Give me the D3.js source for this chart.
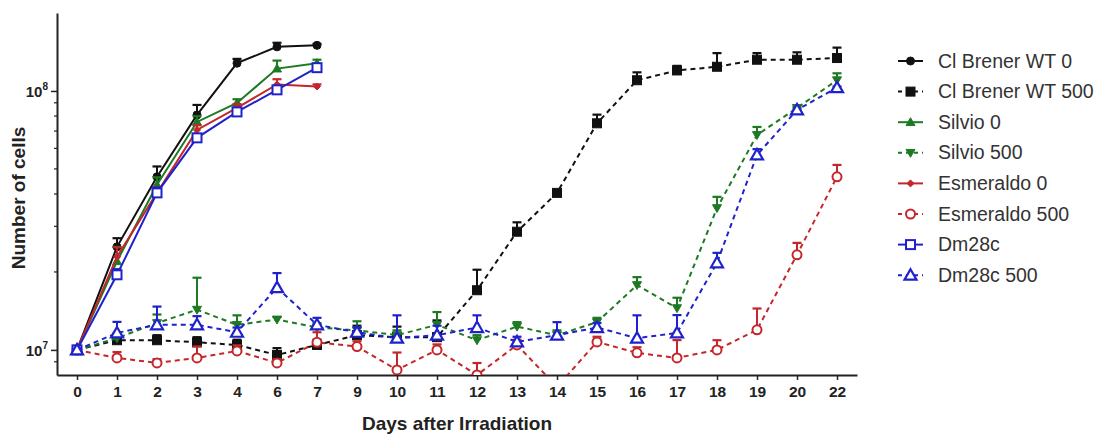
<!DOCTYPE html>
<html>
<head>
<meta charset="utf-8">
<script src="https://cdn.jsdelivr.net/npm/d3@7"></script>
<style>
  body { margin: 0; background: #fff; }
  svg { display: block; font-family: "Liberation Sans", Arial, sans-serif; }
</style>
</head>
<body>
<svg width="1102" height="437"></svg>
<script>
// categorias do eixo X (dias 5, 8 e 21 não existem)
const days = ['0','1','2','3','4','6','7','9','10','11','12','13','14','15','16','17','18','19','20','22'];

// séries sem irradiação (dias 0 a 7)
const cbWT0      = [1e7, 2.5e7, 4.66e7, 8.08e7, 1.28e8, 1.48e8, 1.5e8];
const cbWT0Err   = [0, 0.2e7, 0.45e7, 0.75e7, 0.5e7, 0.55e7, 0.2e7];
const silvio0    = [1e7, 2.2e7, 4.34e7, 7.59e7, 8.99e7, 1.22e8, 1.28e8];
const silvio0Err = [0, 0.3e7, 0.3e7, 0.4e7, 0.3e7, 0.9e7, 0.4e7];
const esm0       = [1e7, 2.29e7, 4.04e7, 7.07e7, 8.6e7, 1.06e8, 1.04e8];
const esm0Err    = [0, 0.2e7, 0.2e7, 0.3e7, 0.3e7, 0.5e7, 0.2e7];
const dm28c      = [1e7, 1.95e7, 4.04e7, 6.59e7, 8.3e7, 1.01e8, 1.23e8];
const dm28cErr   = [0, 0.1e7, 0.2e7, 0.2e7, 0.2e7, 0.3e7, 0.3e7];

// séries irradiadas (500 Gy)
const cbWT500      = [1e7, 1.09e7, 1.09e7, 1.07e7, 1.045e7, 0.956e7, 1.045e7, 1.14e7, 1.12e7, 1.12e7, 1.7e7, 2.86e7, 4.04e7, 7.5e7, 1.10e8, 1.2e8, 1.24e8, 1.32e8, 1.32e8, 1.34e8];
const cbWT500Err   = [0, 0.05e7, 0.05e7, 0.05e7, 0.05e7, 0.06e7, 0.05e7, 0.1e7, 0.11e7, 0.18e7, 0.34e7, 0.25e7, 0.1e7, 0.6e7, 0.8e7, 0.5e7, 1.6e7, 0.8e7, 0.9e7, 1.3e7];
const silvio500    = [1e7, 1.11e7, 1.27e7, 1.43e7, 1.25e7, 1.31e7, 1.22e7, 1.19e7, 1.14e7, 1.25e7, 1.09e7, 1.23e7, 1.14e7, 1.28e7, 1.78e7, 1.45e7, 3.53e7, 6.76e7, 8.6e7, 1.10e8];
const silvio500Err = [0, 0.05e7, 0.1e7, 0.47e7, 0.11e7, 0.03e7, 0.05e7, 0.1e7, 0.05e7, 0.15e7, 0.05e7, 0.05e7, 0.05e7, 0.05e7, 0.13e7, 0.14e7, 0.37e7, 0.5e7, 0.1e7, 0.7e7];
const esm500       = [1e7, 0.931e7, 0.891e7, 0.931e7, 0.991e7, 0.891e7, 1.07e7, 1.03e7, 0.837e7, 1.0e7, 0.80e7, 1.045e7, 0.72e7, 1.074e7, 0.974e7, 0.931e7, 1.0e7, 1.195e7, 2.33e7, 4.66e7];
const esm500Err    = [0, 0.05e7, 0.03e7, 0.1e7, 0.05e7, 0.03e7, 0.1e7, 0.05e7, 0.14e7, 0.05e7, 0.09e7, 0.05e7, 0, 0.05e7, 0.05e7, 0.16e7, 0.09e7, 0.25e7, 0.26e7, 0.52e7];
const dm500        = [1e7, 1.163e7, 1.25e7, 1.25e7, 1.17e7, 1.74e7, 1.25e7, 1.17e7, 1.11e7, 1.14e7, 1.22e7, 1.074e7, 1.14e7, 1.22e7, 1.11e7, 1.163e7, 2.17e7, 5.66e7, 8.45e7, 1.03e8];
const dm500Err     = [0, 0.12e7, 0.22e7, 0.1e7, 0.05e7, 0.24e7, 0.08e7, 0.05e7, 0.25e7, 0.1e7, 0.14e7, 0.05e7, 0.14e7, 0.05e7, 0.25e7, 0.2e7, 0.2e7, 0.3e7, 0.1e7, 0.1e7];

const labels = ['Cl Brener WT 0', 'Cl Brener WT 500', 'Silvio 0', 'Silvio 500', 'Esmeraldo 0', 'Esmeraldo 500', 'Dm28c', 'Dm28c 500'];

const black = '#111', green = '#1d7a22', red = '#c4262b', blue = '#1f22cc';

const series = [
    { name: labels[0], values: cbWT0, err: cbWT0Err, color: black, dash: null, symbol: 'circle', fill: true },
    { name: labels[1], values: cbWT500, err: cbWT500Err, color: black, dash: '5,4', symbol: 'square', fill: true },
    { name: labels[2], values: silvio0, err: silvio0Err, color: green, dash: null, symbol: 'triUp', fill: true },
    { name: labels[3], values: silvio500, err: silvio500Err, color: green, dash: '5,4', symbol: 'triDown', fill: true },
    { name: labels[4], values: esm0, err: esm0Err, color: red, dash: null, symbol: 'diamond', fill: true },
    { name: labels[5], values: esm500, err: esm500Err, color: red, dash: '5,4', symbol: 'circle', fill: false },
    { name: labels[6], values: dm28c, err: dm28cErr, color: blue, dash: null, symbol: 'square', fill: false },
    { name: labels[7], values: dm500, err: dm500Err, color: blue, dash: '5,4', symbol: 'triUp', fill: false }
];

const svg = d3.select('svg');
const margens = { left: 57, right: 245, top: 13, bottom: 62 };
const width = 1102, height = 437;
const plotRight = width - margens.right;
const plotBottom = height - margens.bottom;

//Escalas
const x = d3.scalePoint()
    .domain(days)
    .range([margens.left, plotRight])
    .padding(0.5);

const y = d3.scaleLog()
    .domain([8e6, 2e8])
    .range([plotBottom, margens.top]);

//Eixo X
const xAxis = svg.append('g')
    .attr('transform', `translate(0,${plotBottom})`)
    .call(d3.axisBottom(x).tickSize(5).tickSizeOuter(0).tickPadding(6));
xAxis.select('.domain').attr('stroke', '#222').attr('stroke-width', 2);
xAxis.selectAll('.tick line').attr('stroke', '#222').attr('stroke-width', 1.5);
xAxis.selectAll('.tick text')
    .attr('font-size', 15.5).attr('font-weight', 'bold').attr('fill', '#222')
    .attr('font-family', '"Liberation Sans", Arial, sans-serif');

//Eixo Y: ticks maiores e menores
const major = [1e7, 1e8];
const minor = [9e6, 2e7, 3e7, 4e7, 5e7, 6e7, 7e7, 8e7, 9e7];

const yAxis = svg.append('g')
    .attr('transform', `translate(${margens.left},0)`)
    .call(d3.axisLeft(y).tickValues(major).tickSize(6).tickSizeOuter(0).tickFormat(''));
yAxis.select('.domain').attr('stroke', '#222').attr('stroke-width', 2);
yAxis.selectAll('.tick line').attr('stroke', '#222').attr('stroke-width', 1.5);

svg.append('g')
    .selectAll('line')
    .data(minor)
    .join('line')
    .attr('x1', margens.left - 3).attr('x2', margens.left)
    .attr('y1', d => y(d)).attr('y2', d => y(d))
    .attr('stroke', '#222').attr('stroke-width', 1.2);

//Rótulos 10^7 e 10^8
const yLab = svg.append('g').selectAll('text')
    .data(major)
    .join('text')
    .attr('x', margens.left - 9)
    .attr('y', d => y(d) + 6)
    .attr('text-anchor', 'end')
    .attr('font-size', 15).attr('font-weight', 'bold').attr('fill', '#222');
yLab.append('tspan').text('10');
yLab.append('tspan').attr('dy', -7).attr('font-size', 10).text(d => Math.round(Math.log10(d)));

//Títulos dos eixos
svg.append('text')
    .attr('x', (margens.left + plotRight) / 2)
    .attr('y', 430)
    .attr('text-anchor', 'middle')
    .attr('font-size', 19).attr('font-weight', 'bold').attr('fill', '#222')
    .text('Days after Irradiation');

svg.append('text')
    .attr('transform', 'rotate(-90)')
    .attr('x', -198)
    .attr('y', 25)
    .attr('text-anchor', 'middle')
    .attr('font-size', 19).attr('font-weight', 'bold').attr('fill', '#222')
    .text('Number of cells');

//Área de recorte do gráfico
svg.append('clipPath').attr('id', 'plotClip')
    .append('rect')
    .attr('x', margens.left).attr('y', 0)
    .attr('width', plotRight - margens.left + 20)
    .attr('height', plotBottom);

const plot = svg.append('g').attr('clip-path', 'url(#plotClip)');

function drawSymbol(g, s, cx, cy) {
    const fill = s.fill ? s.color : '#fff';
    if (s.symbol === 'circle') {
        g.append('circle').attr('cx', cx).attr('cy', cy)
            .attr('r', s.fill ? 4 : 4.5)
            .attr('fill', fill).attr('stroke', s.color).attr('stroke-width', s.fill ? 1 : 2);
    } else if (s.symbol === 'square') {
        const h = 4.5;
        g.append('rect').attr('x', cx - h).attr('y', cy - h).attr('width', 2 * h).attr('height', 2 * h)
            .attr('fill', fill).attr('stroke', s.color).attr('stroke-width', s.fill ? 1 : 2);
    } else if (s.symbol === 'triUp') {
        const h = s.fill ? 4.5 : 6;
        g.append('path')
            .attr('d', `M${cx},${cy - h}L${cx + h},${cy + h * 0.75}L${cx - h},${cy + h * 0.75}Z`)
            .attr('fill', fill).attr('stroke', s.color).attr('stroke-width', s.fill ? 1 : 2.2);
    } else if (s.symbol === 'triDown') {
        const h = 4.5;
        g.append('path')
            .attr('d', `M${cx},${cy + h}L${cx + h},${cy - h * 0.75}L${cx - h},${cy - h * 0.75}Z`)
            .attr('fill', fill).attr('stroke', s.color).attr('stroke-width', 1);
    } else if (s.symbol === 'diamond') {
        const h = 3.5;
        g.append('path')
            .attr('d', `M${cx},${cy - h}L${cx + h},${cy}L${cx},${cy + h}L${cx - h},${cy}Z`)
            .attr('fill', fill).attr('stroke', s.color).attr('stroke-width', 1);
    }
}

const line = d3.line()
    .x((d, i) => x(days[i]))
    .y(d => y(d));

series.forEach(s => {
    const g = plot.append('g');

    //Barras de erro (só para cima)
    s.values.forEach((v, i) => {
        if (!s.err[i]) return;
        const cx = x(days[i]);
        const top = y(v + s.err[i]);
        g.append('line').attr('x1', cx).attr('x2', cx).attr('y1', y(v)).attr('y2', top)
            .attr('stroke', s.color).attr('stroke-width', 2);
        g.append('line').attr('x1', cx - 4.5).attr('x2', cx + 4.5).attr('y1', top).attr('y2', top)
            .attr('stroke', s.color).attr('stroke-width', 2.2);
    });

    g.append('path')
        .datum(s.values)
        .attr('fill', 'none')
        .attr('stroke', s.color)
        .attr('stroke-width', 2)
        .attr('stroke-dasharray', s.dash)
        .attr('d', line);

    s.values.forEach((v, i) => drawSymbol(g, s, x(days[i]), y(v)));
});

//Legenda
const legend = svg.append('g');
series.forEach((s, i) => {
    const ly = 61 + i * 30.6;
    const g = legend.append('g');
    g.append('line')
        .attr('x1', 898).attr('x2', 923).attr('y1', ly).attr('y2', ly)
        .attr('stroke', s.color).attr('stroke-width', 2)
        .attr('stroke-dasharray', s.dash ? '4,4' : null);
    drawSymbol(g, s, 910.5, ly);
    g.append('text')
        .attr('x', 938).attr('y', ly + 6.5)
        .attr('font-size', 19.5).attr('fill', '#333')
        .text(s.name);
});
</script>
</body>
</html>
